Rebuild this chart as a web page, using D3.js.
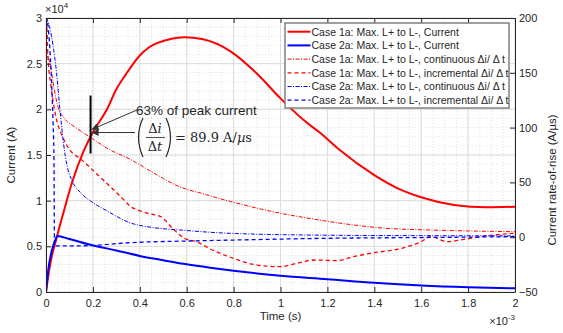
<!DOCTYPE html>
<html>
<head>
<meta charset="utf-8">
<script src="https://cdn.jsdelivr.net/npm/d3@7"></script>
<style>
body { margin: 0; background: #fff; }
svg { font-family: "Liberation Sans", Arial, sans-serif; }
.axis text { font-size: 11px; fill: #262626; }
.axis path, .axis line { stroke: #262626; }
</style>
</head>
<body>
<div id="chart"></div>
<script>
// time in ms (axis shows x10^-3 s)
var case1aTime = [0, 0.01, 0.02, 0.045, 0.08, 0.11, 0.16, 0.2, 0.26, 0.3, 0.34, 0.4, 0.44, 0.53, 0.59, 0.67, 0.79, 0.9, 1.0, 1.1, 1.17, 1.25, 1.4, 1.5, 1.6, 1.74, 1.88, 2.0];
var case1aCurrent = [0, 1800, 3300, 5900, 9200, 11900, 15400, 17500, 20000, 22200, 23800, 25900, 26800, 27700, 27890, 27670, 26300, 23900, 21200, 18800, 17400, 15600, 12800, 11350, 10370, 9530, 9270, 9340];

var case2aTime = [0, 0.01, 0.02, 0.03, 0.04, 0.048, 0.1, 0.2, 0.3, 0.4, 0.5, 0.6, 0.7, 0.8, 0.9, 1.0, 1.2, 1.4, 1.6, 1.8, 2.0];
var case2aCurrent = [0, 2500, 4000, 5000, 5700, 6130, 5800, 5100, 4550, 3950, 3480, 3030, 2660, 2330, 2030, 1770, 1400, 1000, 700, 510, 400];

var cont1aTime = [0, 0.02, 0.035, 0.05, 0.08, 0.12, 0.19, 0.27, 0.36, 0.44, 0.57, 0.68, 0.79, 0.9, 1.0, 1.1, 1.2, 1.3, 1.45, 1.6, 1.74, 2.0];
var cont1aRate = [170, 155, 135, 120, 108, 101, 91, 80, 71, 61, 46, 39, 32.4, 26.5, 21.8, 18, 14.5, 11.5, 8.1, 6.8, 6, 5];

var incr1aTime = [0, 0.002, 0.008, 0.02, 0.04, 0.07, 0.1, 0.15, 0.2, 0.26, 0.337, 0.36, 0.39, 0.45, 0.49, 0.54, 0.59, 0.64, 0.71, 0.8, 0.9, 1.0, 1.07, 1.15, 1.24, 1.31, 1.4, 1.5, 1.6, 1.64, 1.71, 1.81, 1.91, 2.0];
var incr1aRate = [-12, 198, 166, 140, 112, 92, 80, 71, 61, 49, 33, 28, 25, 21, 18.7, 8, -1, -4, -11.7, -19.3, -25.4, -26.9, -23.8, -20.8, -21.4, -17.8, -14.1, -11, -4, 0.5, -4, -1, 2, 3.5];

var cont2aTime = [0, 0.015, 0.03, 0.045, 0.06, 0.075, 0.09, 0.11, 0.15, 0.19, 0.26, 0.36, 0.45, 0.57, 0.79, 1.2, 1.6, 2.0];
var cont2aRate = [200, 192, 175, 150, 115, 85, 65, 52, 40, 33, 24, 13, 9, 6.6, 3.5, 1.8, 1.4, 1.2];

var incr2aTime = [0, 0.002, 0.012, 0.022, 0.03, 0.034, 0.036, 0.1, 0.2, 0.36, 0.6, 0.8, 1.2, 1.6, 2.0];
var incr2aRate = [-12, 200, 185, 150, 105, 72, -8, -8, -7.5, -5, -3.5, -2.6, -1, -0.3, 0.5];

var xTicks = [0, 0.2, 0.4, 0.6, 0.8, 1, 1.2, 1.4, 1.6, 1.8, 2];
var leftTicks = [0, 5000, 10000, 15000, 20000, 25000, 30000];
var rightTicks = [-50, 0, 50, 100, 150, 200];

var legendLabels = [
  "Case 1a: Max. L+ to L-, Current",
  "Case 2a: Max. L+ to L-, Current",
  "Case 1a: Max. L+ to L-, continuous \u0394i/ \u0394 t",
  "Case 1a: Max. L+ to L-, incremental \u0394i/ \u0394 t",
  "Case 2a: Max. L+ to L-, continuous \u0394i/ \u0394 t",
  "Case 2a: Max. L+ to L-, incremental \u0394i/ \u0394 t"
];

var W = 563, H = 333;
var m = { left: 46, right: 48, top: 18, bottom: 41 };
var iw = W - m.left - m.right, ih = H - m.top - m.bottom;

var svg = d3.select("#chart").append("svg").attr("width", W).attr("height", H);
var g = svg.append("g").attr("transform", "translate(" + m.left + "," + m.top + ")");

var x = d3.scaleLinear().domain([0, 2]).range([0, iw]);
var yL = d3.scaleLinear().domain([0, 30000]).range([ih, 0]);
var yR = d3.scaleLinear().domain([-50, 200]).range([ih, 0]);

// minor grid
var xMinor = d3.range(0, 2.0001, 0.05);
var yMinor = d3.range(0, 30001, 1000);
g.append("g").selectAll("line").data(xMinor).enter().append("line")
  .attr("x1", function(d) { return x(d); }).attr("x2", function(d) { return x(d); })
  .attr("y1", 0).attr("y2", ih)
  .attr("stroke", "#d6d6d6").attr("stroke-width", 0.7).attr("stroke-dasharray", "1,2");
g.append("g").selectAll("line").data(yMinor).enter().append("line")
  .attr("y1", function(d) { return yL(d); }).attr("y2", function(d) { return yL(d); })
  .attr("x1", 0).attr("x2", iw)
  .attr("stroke", "#d6d6d6").attr("stroke-width", 0.7).attr("stroke-dasharray", "1,2");

// major grid
g.append("g").selectAll("line").data(xTicks).enter().append("line")
  .attr("x1", function(d) { return x(d); }).attr("x2", function(d) { return x(d); })
  .attr("y1", 0).attr("y2", ih)
  .attr("stroke", "#dcdcdc").attr("stroke-width", 1);
g.append("g").selectAll("line").data(leftTicks).enter().append("line")
  .attr("y1", function(d) { return yL(d); }).attr("y2", function(d) { return yL(d); })
  .attr("x1", 0).attr("x2", iw)
  .attr("stroke", "#dcdcdc").attr("stroke-width", 1);

// lines
g.append("clipPath").attr("id", "clip").append("rect").attr("width", iw).attr("height", ih);
var plot = g.append("g").attr("clip-path", "url(#clip)");

function pairs(t, v) {
  return t.map(function(d, i) { return [d, v[i]]; });
}
var lineL = d3.line().x(function(d) { return x(d[0]); }).y(function(d) { return yL(d[1]); }).curve(d3.curveMonotoneX);
var lineR = d3.line().x(function(d) { return x(d[0]); }).y(function(d) { return yR(d[1]); }).curve(d3.curveMonotoneX);

var series = [
  { pts: pairs(case1aTime, case1aCurrent), line: lineL, color: "#ff0000", w: 2, dash: null },
  { pts: pairs(case2aTime, case2aCurrent), line: lineL, color: "#0000ff", w: 2, dash: null },
  { pts: pairs(cont1aTime, cont1aRate), line: lineR, color: "#ff0000", w: 1, dash: "4,1.5,1,1.5" },
  { pts: pairs(incr1aTime, incr1aRate), line: lineR, color: "#ff0000", w: 1.3, dash: "4,3" },
  { pts: pairs(cont2aTime, cont2aRate), line: lineR, color: "#0000ff", w: 1, dash: "4,1.5,1,1.5" },
  { pts: pairs(incr2aTime, incr2aRate), line: lineR, color: "#0000ff", w: 1.3, dash: "4,3" }
];

series.forEach(function(s) {
  plot.append("path")
    .attr("d", s.line(s.pts))
    .attr("fill", "none")
    .attr("stroke", s.color)
    .attr("stroke-width", s.w)
    .attr("stroke-dasharray", s.dash);
});

// axes
g.append("g").attr("class", "axis").attr("transform", "translate(0," + ih + ")")
  .call(d3.axisBottom(x).tickValues(xTicks).tickFormat(d3.format("~g")).tickSizeInner(-5).tickSizeOuter(0).tickPadding(7));
g.append("g").attr("class", "axis")
  .call(d3.axisTop(x).tickValues(xTicks).tickFormat("").tickSizeInner(-5).tickSizeOuter(0));
g.append("g").attr("class", "axis")
  .call(d3.axisLeft(yL).tickValues(leftTicks).tickFormat(function(d) { return d3.format("~g")(d / 10000); }).tickSizeInner(-5).tickSizeOuter(0).tickPadding(4));
g.append("g").attr("class", "axis").attr("transform", "translate(" + iw + ",0)")
  .call(d3.axisRight(yR).tickValues(rightTicks).tickSizeInner(-5).tickSizeOuter(0).tickPadding(4));

// exponent labels
var e4 = svg.append("text").attr("x", m.left - 1).attr("y", 13).attr("font-size", 11).attr("fill", "#262626");
e4.append("tspan").text("\u00d710");
e4.append("tspan").attr("dy", -5).attr("font-size", 8).text("4");
var e3 = svg.append("text").attr("x", m.left + iw).attr("y", 325).attr("text-anchor", "end").attr("font-size", 11).attr("fill", "#262626");
e3.append("tspan").text("\u00d710");
e3.append("tspan").attr("dy", -5).attr("font-size", 8).text("-3");

// axis titles
svg.append("text").attr("x", m.left + iw / 2).attr("y", 320).attr("text-anchor", "middle")
  .attr("font-size", 11.5).attr("fill", "#262626").text("Time (s)");
svg.append("text").attr("transform", "translate(15," + (m.top + ih / 2) + ") rotate(-90)")
  .attr("text-anchor", "middle").attr("font-size", 11.5).attr("fill", "#262626").text("Current (A)");
svg.append("text").attr("transform", "translate(556," + (m.top + ih / 2 + 25) + ") rotate(-90)")
  .attr("text-anchor", "middle").attr("font-size", 11.5).attr("fill", "#262626").text("Current rate-of-rise (A/\u00b5s)");

// annotation
var markT = 0.19;
var peak = d3.max(case1aCurrent);
var px = m.left + x(markT), py = m.top + yL(0.63 * peak);
var ann = svg.append("g");
ann.append("line").attr("x1", px).attr("x2", px).attr("y1", py - 36).attr("y2", py + 22)
  .attr("stroke", "#000").attr("stroke-width", 2);

svg.append("defs").append("marker").attr("id", "arr").attr("viewBox", "0 0 10 10")
  .attr("refX", 10).attr("refY", 5).attr("markerWidth", 10).attr("markerHeight", 7)
  .attr("markerUnits", "userSpaceOnUse").attr("orient", "auto")
  .append("path").attr("d", "M0,0L10,5L0,10Z").attr("fill", "#333");

ann.append("line").attr("x1", 137).attr("y1", 110).attr("x2", px + 1).attr("y2", py - 2)
  .attr("stroke", "#333").attr("stroke-width", 1).attr("marker-end", "url(#arr)");
ann.append("line").attr("x1", 135).attr("y1", py + 1).attr("x2", px + 1).attr("y2", py + 1)
  .attr("stroke", "#333").attr("stroke-width", 1).attr("marker-end", "url(#arr)");
ann.append("text").attr("x", 136).attr("y", 115).attr("font-size", 13.5).attr("fill", "#262626")
  .text("63% of peak current");

var serif = "'DejaVu Serif', 'Liberation Serif', serif";
var mth = ann.append("g").attr("font-family", serif).attr("fill", "#262626");
mth.append("path").attr("d", "M143,118 Q134,137 143,157").attr("fill", "none").attr("stroke", "#262626").attr("stroke-width", 1.2);
mth.append("path").attr("d", "M166,118 Q175,137 166,157").attr("fill", "none").attr("stroke", "#262626").attr("stroke-width", 1.2);
var ti = mth.append("text").attr("x", 155).attr("y", 133).attr("text-anchor", "middle").attr("font-size", 13);
ti.append("tspan").text("\u0394");
ti.append("tspan").attr("font-style", "italic").text("i");
mth.append("line").attr("x1", 146).attr("x2", 165).attr("y1", 137.5).attr("y2", 137.5).attr("stroke", "#262626").attr("stroke-width", 0.8);
var tt = mth.append("text").attr("x", 155).attr("y", 151).attr("text-anchor", "middle").attr("font-size", 13);
tt.append("tspan").text("\u0394");
tt.append("tspan").attr("font-style", "italic").text("t");
var eq = mth.append("text").attr("x", 175).attr("y", 142).attr("font-size", 13);
eq.append("tspan").text("= 89.9 A/");
eq.append("tspan").attr("font-style", "italic").text("\u00b5");
eq.append("tspan").text("s");

// legend
var lg = svg.append("g").attr("transform", "translate(285,23)");
lg.append("rect").attr("width", 224).attr("height", 85).attr("fill", "#fff")
  .attr("stroke", "#808080").attr("stroke-width", 1.5);
legendLabels.forEach(function(lab, i) {
  var yy = 8.7 + i * 13.7;
  var s = series[i];
  lg.append("line").attr("x1", 2.5).attr("x2", 25.5).attr("y1", yy).attr("y2", yy)
    .attr("stroke", s.color).attr("stroke-width", s.w).attr("stroke-dasharray", s.dash);
  lg.append("text").attr("x", 26.5).attr("y", yy + 3.8).attr("font-size", 10.5).attr("fill", "#262626").text(lab);
});
</script>
</body>
</html>
